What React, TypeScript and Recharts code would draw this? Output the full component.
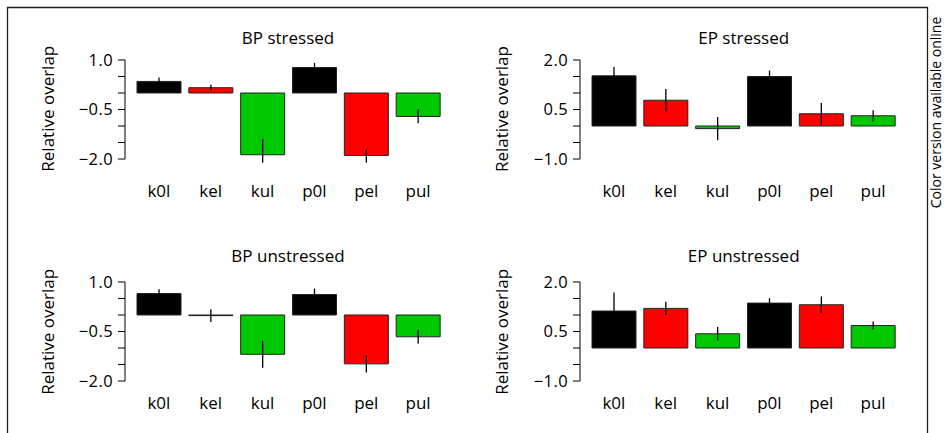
import React from "react";
import { BarChart, Bar, XAxis, YAxis, Cell, ErrorBar } from "recharts";

const categories = ["k0l", "kel", "kul", "p0l", "pel", "pul"];
const COLORS = ["#000000", "#ff0000", "#00c800", "#000000", "#ff0000", "#00c800"];

// values, errors as +/- or [down, up] where the bar is cut off
const bpStressed = [0.35, 0.16, -1.87, 0.77, -1.89, -0.71];
const bpStressedErr = [0.12, 0.09, [0.24, 0.48], 0.14, [0.22, 0.18], 0.21];
const epStressed = [1.52, 0.78, -0.08, 1.5, 0.37, 0.31];
const epStressedErr = [0.27, 0.34, 0.35, 0.18, 0.33, 0.17];
const bpUnstressed = [0.65, -0.02, -1.19, 0.62, -1.48, -0.66];
const bpUnstressedErr = [0.13, 0.19, 0.41, 0.18, 0.26, 0.21];
const epUnstressed = [1.12, 1.2, 0.43, 1.36, 1.31, 0.68];
const epUnstressedErr = [0.56, 0.2, 0.21, 0.15, 0.25, 0.12];

const bpTicks = [-2, -1.5, -1, -0.5, 0, 0.5, 1];
const bpLabels = [-2, -0.5, 1];
const epTicks = [-1, -0.5, 0, 0.5, 1, 1.5, 2];
const epLabels = [-1, 0.5, 2];

const FONT = "'Open Sans', sans-serif";
const PLOT_W = 327;
const PLOT_H = 107;
const AXIS_W = 60;

const fmt = (v: number) => (v < 0 ? "\u2212" + Math.abs(v).toFixed(1) : v.toFixed(1));

const makeTick = (labels: number[], top: number, step: number) => (props: any) => {
  const { x, y, payload } = props;
  const v = payload.value;
  const ax = x + 7 + 5;
  return (
    <g>
      {v < top && <line x1={ax} x2={ax} y1={y} y2={y - step} stroke="#000" strokeWidth={1} />}
      {labels.includes(v) && (
        <text x={x} y={y} dy="0.36em" textAnchor="end" fontSize={16.5} fill="#000" fontFamily={FONT} letterSpacing={0.4}>
          {fmt(v)}
        </text>
      )}
    </g>
  );
};

type PanelProps = {
  left: number;
  top: number;
  values: number[];
  errors: (number | number[])[];
  ticks: number[];
  labels: number[];
  catMargin: number;
};

const Panel = ({ left, top, values, errors, ticks, labels, catMargin }: PanelProps) => {
  const data = categories.map((name, i) => ({ name, value: values[i], err: errors[i] }));
  const lo = ticks[0] - 0.12;
  const hi = ticks[ticks.length - 1] + 0.12;
  const step = (PLOT_H / (hi - lo)) * 0.5;
  return (
    <div style={{ position: "absolute", left: left - AXIS_W, top: top - 10 }}>
      <BarChart
        width={AXIS_W + PLOT_W}
        height={10 + PLOT_H + 45}
        data={data}
        margin={{ top: 10, right: 0, bottom: 0, left: 0 }}
        barCategoryGap={4}
      >
        <XAxis
          dataKey="name"
          axisLine={false}
          tickLine={false}
          tickSize={0}
          tickMargin={catMargin}
          interval={0}
          height={45}
          padding={{ left: 8, right: 8 }}
          tick={{ fill: "#000", fontSize: 17, fontFamily: FONT }}
        />
        <YAxis
          type="number"
          domain={[lo, hi]}
          ticks={ticks}
          interval={0}
          width={AXIS_W}
          axisLine={false}
          tickSize={7}
          tickMargin={5}
          tickLine={{ stroke: "#000", strokeWidth: 1 }}
          tick={makeTick(labels, ticks[ticks.length - 1], step)}
        />
        <Bar dataKey="value" stroke="#222" strokeWidth={1} isAnimationActive={false}>
          {data.map((d, i) => (
            <Cell key={d.name} fill={COLORS[i]} />
          ))}
          <ErrorBar dataKey="err" width={0} stroke="#000" strokeWidth={1.3} direction="y" />
        </Bar>
      </BarChart>
    </div>
  );
};

const titles = [
  { text: "BP stressed", x: 288, y: 43.7 },
  { text: "EP stressed", x: 743.7, y: 43.7 },
  { text: "BP unstressed", x: 288, y: 261.7 },
  { text: "EP unstressed", x: 743.7, y: 261.7 },
];
const yLabels = [
  { x: 54.3, y: 108.7 },
  { x: 507.7, y: 109 },
  { x: 54.3, y: 331.8 },
  { x: 507.7, y: 331.8 },
];

export default function App() {
  return (
    <div style={{ position: "absolute", left: 0, top: 0, width: 944, height: 433, background: "#fff", overflow: "hidden" }}>
      <Panel left={124.6} top={56} values={bpStressed} errors={bpStressedErr} ticks={bpTicks} labels={bpLabels} catMargin={22} />
      <Panel left={580.3} top={56.3} values={epStressed} errors={epStressedErr} ticks={epTicks} labels={epLabels} catMargin={22} />
      <Panel left={124.6} top={278.4} values={bpUnstressed} errors={bpUnstressedErr} ticks={bpTicks} labels={bpLabels} catMargin={11.5} />
      <Panel left={580.3} top={278.4} values={epUnstressed} errors={epUnstressedErr} ticks={epTicks} labels={epLabels} catMargin={11.5} />
      <svg width={944} height={433} style={{ position: "absolute", left: 0, top: 0, pointerEvents: "none" }}>
        <path d="M7.5 433 V7.5 H927.5 V433" fill="none" stroke="#222" strokeWidth={1.3} />
        {titles.map((t) => (
          <text key={t.text} x={t.x} y={t.y} textAnchor="middle" fontSize={17} fontFamily={FONT} fill="#000">
            {t.text}
          </text>
        ))}
        {yLabels.map((l, i) => (
          <text key={i} transform={`translate(${l.x},${l.y}) rotate(-90)`} textAnchor="middle" fontSize={17} fontFamily={FONT} fill="#000">
            Relative overlap
          </text>
        ))}
        <text transform="translate(940.5,112.5) rotate(-90)" textAnchor="middle" fontSize={14} fontFamily={FONT} fill="#000">
          Color version available online
        </text>
      </svg>
    </div>
  );
}
